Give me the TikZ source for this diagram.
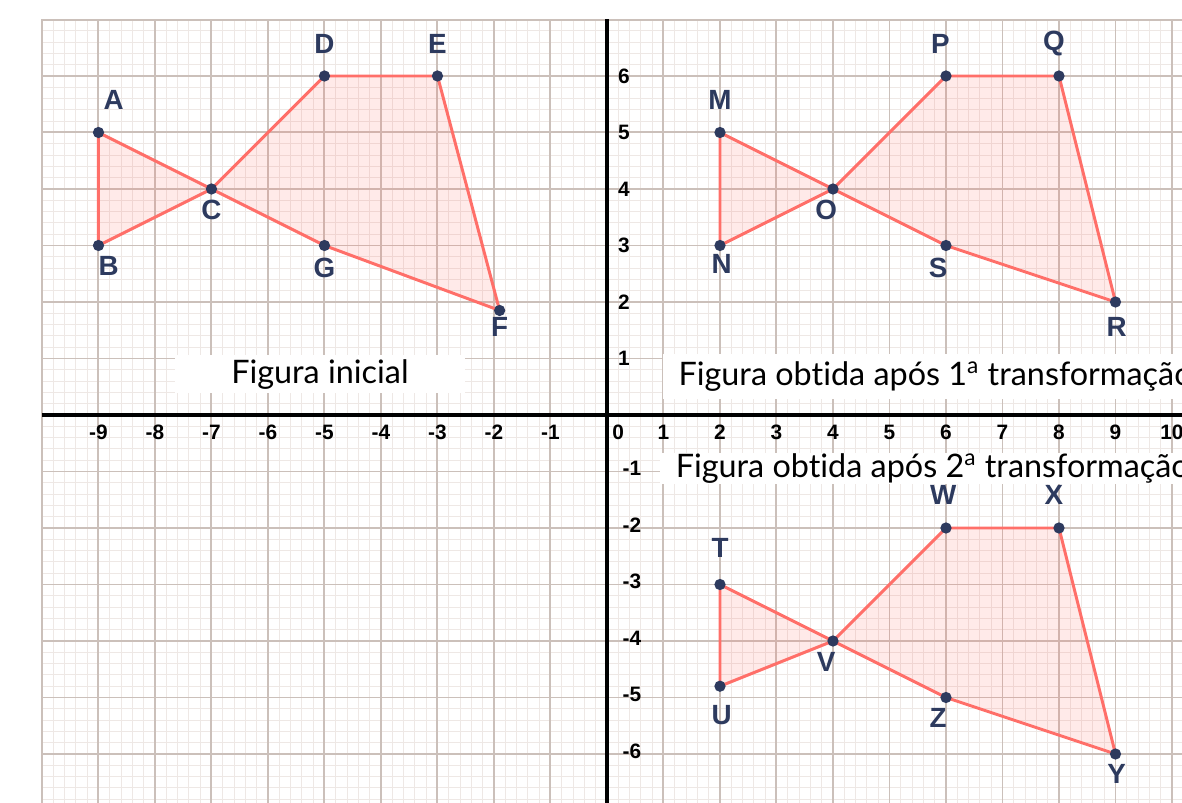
\documentclass[tikz,border=0pt]{standalone}
\usepackage{fontspec}
\setmainfont{Lato}[Ligatures={NoCommon,NoRare}]
\newfontfamily\lblfont{Liberation Sans}
\definecolor{gridminor}{RGB}{238,232,229}
\definecolor{gridmajor}{RGB}{203,192,186}
\definecolor{salmon}{RGB}{255,111,105}
\definecolor{navy}{RGB}{45,58,94}

\begin{document}
\begin{tikzpicture}[
  dot/.style={circle, fill=navy, inner sep=0pt, minimum size=0.2cm},
  lbl/.style={font=\lblfont\fontsize{14}{16}\selectfont\bfseries, text=navy, inner sep=0pt},
  num/.style={font=\lblfont\fontsize{10.5}{12}\selectfont\bfseries, inner sep=0pt},
  caption/.style={fill=white, font=\fontsize{16.3}{18}\selectfont, inner ysep=0pt},
  polyg/.style={draw=salmon, line width=1.5pt, fill=salmon, fill opacity=0.15, line join=round}]

  \useasboundingbox (-10.743,-6.867) rectangle (10.177,7.345);
  \clip (-10.743,-6.867) rectangle (10.177,7.345);
  \draw[gridminor, line width=0.5pt, step=0.2] (-10,-6.9) grid (10.2,7);
  \draw[gridmajor, line width=1pt, step=1] (-10,-6.9) grid (10.2,7);

  \node[caption, minimum width=5.14cm, minimum height=0.67cm] (tIni) at (-5.08,0.72) {Figura inicial};
  \node[caption, anchor=west, minimum height=0.8cm, inner xsep=0.27cm] (tOne) at (0.99,0.68) {Figura obtida após 1\textsuperscript{a} transformação};
  \node[caption, anchor=west, minimum height=0.55cm, inner xsep=0.27cm] (tTwo) at (0.94,-0.95) {Figura obtida após 2\textsuperscript{a} transformação};

  \draw[line width=2.5pt] (-10,0) -- (10.2,0);
  \draw[line width=2.5pt] (0,7) -- (0,-6.9);

  \foreach \x in {-9,...,-1,1,2,...,10}
    \node[num] (nx\x) at (\x,-0.3) {\x};
  \node[num] (nx0) at (0.2,-0.3) {0};
  \foreach \y in {1,...,6}
    \node[num, anchor=west] (ny\y) at (0.19,\y) {\y};
  \foreach \y in {-6,...,-1}
    \node[num, anchor=west] (ny\y) at (0.27,\y+0.05) {\y};

  \foreach \n/\x/\y in {A/-9/5, B/-9/3, C/-7/4, D/-5/6, E/-3/6, F/-1.9/1.85, G/-5/3,
                        M/2/5, N/2/3, O/4/4, P/6/6, Q/8/6, R/9/2, S/6/3,
                        T/2/-3, U/2/-4.8, V/4/-4, W/6/-2, X/8/-2, Y/9/-6, Z/6/-5}
    \coordinate (\n) at (\x,\y);

  \path[polyg] (A) -- (B) -- (C) -- cycle;
  \path[polyg] (C) -- (D) -- (E) -- (F) -- (G) -- cycle;
  \path[polyg] (M) -- (N) -- (O) -- cycle;
  \path[polyg] (O) -- (P) -- (Q) -- (R) -- (S) -- cycle;
  \path[polyg] (T) -- (U) -- (V) -- cycle;
  \path[polyg] (V) -- (W) -- (X) -- (Y) -- (Z) -- cycle;

  \foreach \n/\dx/\dy in {A/0.27/0.58, B/0.18/-0.37, C/0/-0.37, D/0/0.57, E/0/0.57, F/0/-0.3, G/0/-0.4,
                          M/0/0.58, N/0.03/-0.32, O/-0.12/-0.37, P/-0.1/0.57, Q/-0.09/0.57, R/0.02/-0.44, S/-0.14/-0.4,
                          T/0/0.64, U/0.03/-0.51, V/-0.12/-0.37, W/-0.05/0.58, X/-0.09/0.58, Y/0.02/-0.35, Z/-0.14/-0.37} {
    \node[dot] (d\n) at (\n) {};
    \node[lbl] (l\n) at ([shift={(\dx,\dy)}]\n) {\n};
  }

\end{tikzpicture}
\end{document}
